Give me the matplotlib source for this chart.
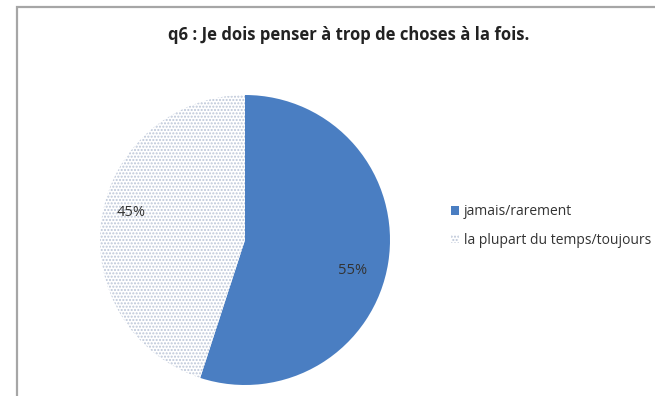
import matplotlib
matplotlib.use("Agg")
import matplotlib.pyplot as plt
from matplotlib.patches import Rectangle, Patch

title = "q6 : Je dois penser à trop de choses à la fois."
categories = ["jamais/rarement", "la plupart du temps/toujours"]
values = [55, 45]
labels = ["55%", "45%"]

plt.rcParams['font.family'] = ['Open Sans', 'DejaVu Sans']

fig = plt.figure(figsize=(6.55, 3.96), dpi=100)
W, H = 655, 396

# frame
fig.patches.append(Rectangle((17 / W, -0.1), 1.2, (H - 7) / H + 0.1, transform=fig.transFigure,
                             fill=False, edgecolor="#a6a6a6", linewidth=1.6))

fig.text(349 / W, 1 - 35 / H, title, ha="center", va="center", fontsize=12, fontweight="bold",
         color="#222222")

cx, cy, r = 245, 240, 145
ax = fig.add_axes([(cx - r) / W, 1 - (cy + r) / H, 2 * r / W, 2 * r / H])
wedges, _ = ax.pie(values, startangle=90, counterclock=False,
                   colors=["#4a7ec2", "white"], wedgeprops=dict(linewidth=0))
wedges[1].set_hatch(".....")
wedges[1].set_edgecolor("#bcc6d8")
wedges[1].set_linewidth(0)
ax.set_aspect("auto")
ax.set_xlim(-1, 1)
ax.set_ylim(-1, 1)

def to_data(px, py):
    return ((px - cx) / r, -(py - cy) / r)

x, y = to_data(353, 270)
ax.text(x, y, labels[0], ha="center", va="center", fontsize=10.5, color="#333333")
x, y = to_data(131, 213)
ax.text(x, y, labels[1], ha="center", va="center", fontsize=10.5, color="#333333")

handles = [Patch(facecolor="#4a7ec2", edgecolor="none"),
           Patch(facecolor="white", edgecolor="#bcc6d8", hatch=".....", linewidth=0)]
fig.legend(handles, categories, loc="center left", bbox_to_anchor=(438 / W, 1 - 226 / H),
           frameon=False, fontsize=10, handlelength=0.6, handleheight=0.6, handletextpad=0.35,
           labelspacing=1.0, labelcolor="#333333")

fig.savefig("out.png", dpi=100)
